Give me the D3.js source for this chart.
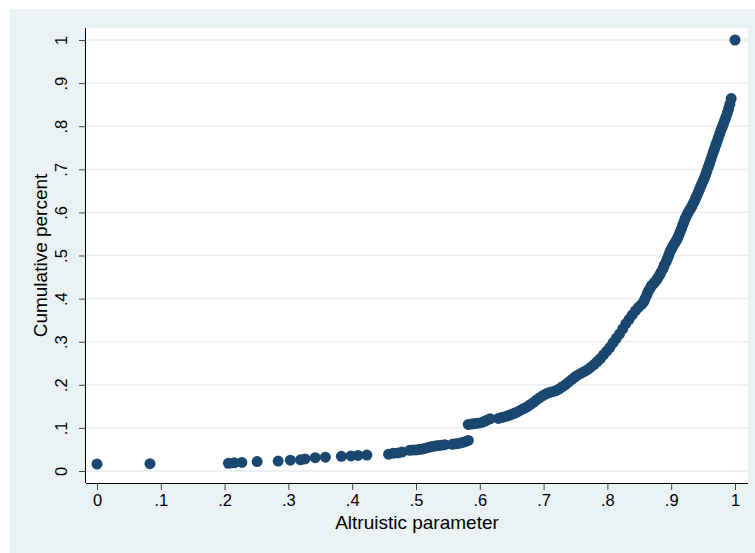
<!DOCTYPE html>
<html>
<head>
<meta charset="utf-8">
<script src="https://cdn.jsdelivr.net/npm/d3@7"></script>
<style>
  body { margin: 0; background: #fff; }
  svg { display: block; font-family: "Liberation Sans", Arial, sans-serif; }
</style>
</head>
<body>
<script>
// cumulative distribution of the altruistic parameter
var altruism = [
  0.000, 0.083, 0.206, 0.215, 0.227, 0.251, 0.284, 0.303, 0.319, 0.326,
  0.342, 0.358, 0.383, 0.398, 0.409, 0.423, 0.457, 0.464, 0.472, 0.478,
  0.490, 0.495, 0.500, 0.505, 0.510, 0.515, 0.520, 0.525, 0.530, 0.535,
  0.540, 0.545, 0.557, 0.562, 0.567, 0.572, 0.577, 0.582,
  0.582, 0.587, 0.592, 0.597, 0.602, 0.607, 0.611, 0.616,
  0.629, 0.634, 0.639, 0.644, 0.649, 0.654, 0.659, 0.664, 0.669, 0.674,
  0.679, 0.684, 0.689, 0.694, 0.699, 0.704, 0.709, 0.714, 0.719, 0.724,
  0.729, 0.734, 0.739, 0.744, 0.749, 0.754, 0.759, 0.764, 0.769, 0.774,
  0.779, 0.784, 0.789, 0.794, 0.799, 0.804, 0.809, 0.814, 0.819, 0.824,
  0.829, 0.834, 0.839, 0.844, 0.849, 0.854, 0.857, 0.859, 0.862, 0.864,
  0.867, 0.869, 0.872, 0.874, 0.877, 0.879, 0.882, 0.884, 0.887, 0.889,
  0.892, 0.894, 0.896, 0.898,
  0.900, 0.902, 0.904, 0.906, 0.908, 0.910, 0.912, 0.914, 0.916, 0.918,
  0.920, 0.922, 0.924, 0.926, 0.928, 0.930, 0.932, 0.934, 0.936, 0.938,
  0.940, 0.942, 0.944, 0.946, 0.948, 0.950, 0.952, 0.954, 0.956, 0.958,
  0.960, 0.962, 0.964, 0.966, 0.968, 0.970, 0.972, 0.974, 0.976, 0.978,
  0.980, 0.982, 0.984, 0.986, 0.988, 0.990, 0.992, 0.994,
  1.000
];
var cumPercent = [
  0.016, 0.017, 0.018, 0.019, 0.020, 0.022, 0.023, 0.025, 0.026, 0.028,
  0.031, 0.032, 0.034, 0.035, 0.036, 0.037, 0.039, 0.041, 0.042, 0.044,
  0.048, 0.049, 0.049, 0.050, 0.051, 0.053, 0.055, 0.057, 0.058, 0.059,
  0.060, 0.061, 0.062, 0.063, 0.064, 0.066, 0.068, 0.071,
  0.108, 0.109, 0.110, 0.111, 0.112, 0.115, 0.118, 0.121,
  0.122, 0.124, 0.126, 0.128, 0.131, 0.134, 0.137, 0.141, 0.145, 0.149,
  0.154, 0.159, 0.165, 0.170, 0.175, 0.179, 0.182, 0.184, 0.186, 0.190,
  0.195, 0.200, 0.206, 0.212, 0.218, 0.223, 0.227, 0.231, 0.235, 0.241,
  0.247, 0.254, 0.261, 0.270, 0.278, 0.287, 0.298, 0.308, 0.318, 0.330,
  0.342, 0.352, 0.362, 0.372, 0.380, 0.387, 0.393, 0.400, 0.409, 0.417,
  0.424, 0.430, 0.434, 0.438, 0.443, 0.448, 0.455, 0.461, 0.469, 0.477,
  0.485, 0.493, 0.500, 0.508,
  0.514, 0.520, 0.525, 0.530, 0.535, 0.540, 0.547, 0.555, 0.562, 0.570,
  0.578, 0.586, 0.592, 0.598, 0.603, 0.608, 0.613, 0.619, 0.625, 0.632,
  0.638, 0.645, 0.652, 0.660, 0.666, 0.673, 0.680, 0.688, 0.696, 0.705,
  0.713, 0.722, 0.731, 0.740, 0.748, 0.757, 0.765, 0.774, 0.782, 0.791,
  0.798, 0.806, 0.814, 0.822, 0.831, 0.840, 0.851, 0.864,
  1.000
];

var tickValues = [0, 0.1, 0.2, 0.3, 0.4, 0.5, 0.6, 0.7, 0.8, 0.9, 1];
var tickLabels = ["0", ".1", ".2", ".3", ".4", ".5", ".6", ".7", ".8", ".9", "1"];

var width = 755, height = 553;
var box = { left: 86, right: 748, top: 28, bottom: 483 };

var svg = d3.select('body').append('svg')
  .attr('width', width)
  .attr('height', height);

// graph region (stata s2color)
svg.append('rect')
  .attr('x', 10).attr('y', 9)
  .attr('width', width - 10).attr('height', height - 9)
  .attr('fill', '#eaf2f3');

svg.append('rect')
  .attr('x', box.left).attr('y', box.top)
  .attr('width', box.right - box.left).attr('height', box.bottom - box.top)
  .attr('fill', '#ffffff');

var x = d3.scaleLinear().domain([0, 1]).range([97, 735]);
var y = d3.scaleLinear().domain([0, 1]).range([471, 40]);

// gridlines
svg.append('g')
  .selectAll('line')
  .data(tickValues)
  .join('line')
    .attr('x1', box.left)
    .attr('x2', box.right)
    .attr('y1', function(d){ return y(d); })
    .attr('y2', function(d){ return y(d); })
    .attr('stroke', '#e6eef0')
    .attr('stroke-width', 1.3);

function label(d){ return tickLabels[tickValues.indexOf(d)]; }

// x axis
var xAxis = svg.append('g')
  .attr('transform', 'translate(0,' + box.bottom + ')')
  .call(d3.axisBottom(x).tickValues(tickValues).tickFormat(label).tickSize(7).tickPadding(4));
xAxis.select('.domain').attr('d', 'M' + box.left + ',0.5H' + box.right).attr('stroke', '#000');
xAxis.selectAll('.tick line').attr('stroke', '#444');
xAxis.selectAll('.tick text')
  .attr('font-size', 16.5)
  .attr('fill', '#000')
  .attr('font-family', '"Liberation Sans", Arial, sans-serif');

// y axis
var yAxis = svg.append('g')
  .attr('transform', 'translate(' + box.left + ',0)')
  .call(d3.axisLeft(y).tickValues(tickValues).tickFormat(label).tickSize(7).tickPadding(5));
yAxis.select('.domain').attr('d', 'M-0.5,' + box.top + 'V' + box.bottom).attr('stroke', '#000');
yAxis.selectAll('.tick line').attr('stroke', '#444');
yAxis.selectAll('.tick text')
  .attr('font-size', 16.5)
  .attr('fill', '#000')
  .attr('font-family', '"Liberation Sans", Arial, sans-serif')
  .attr('text-anchor', 'middle')
  .attr('dy', 0)
  .attr('x', 0)
  .attr('transform', 'translate(-19,0) rotate(-90)');

// markers
var points = altruism.map(function(v, i){ return [v, cumPercent[i]]; });
svg.append('g')
  .selectAll('circle')
  .data(points)
  .join('circle')
    .attr('cx', function(d){ return x(d[0]); })
    .attr('cy', function(d){ return y(d[1]); })
    .attr('r', 5.5)
    .attr('fill', '#1a476f');

// axis titles
svg.append('text')
  .attr('x', (box.left + box.right) / 2)
  .attr('y', 529)
  .attr('text-anchor', 'middle')
  .attr('font-size', 19)
  .text('Altruistic parameter');

svg.append('text')
  .attr('transform', 'translate(47,' + (box.top + box.bottom) / 2 + ') rotate(-90)')
  .attr('text-anchor', 'middle')
  .attr('font-size', 19)
  .text('Cumulative percent');
</script>
</body>
</html>
